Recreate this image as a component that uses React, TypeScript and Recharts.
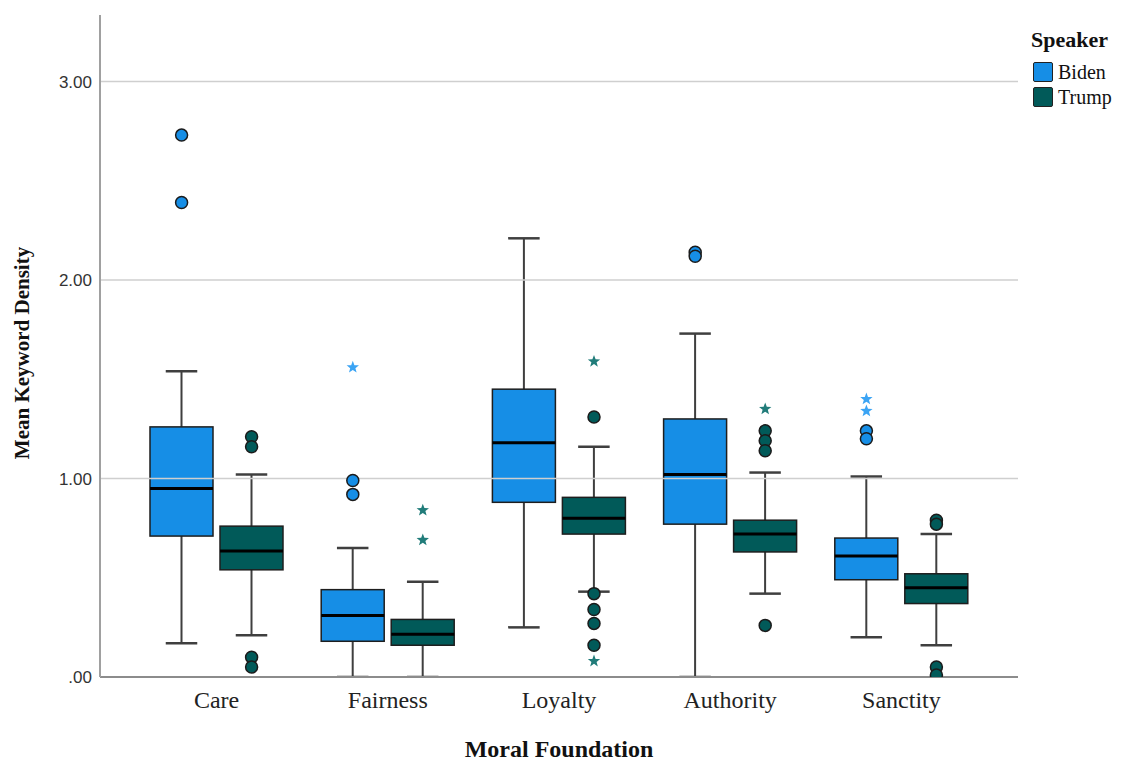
import { ComposedChart, Bar, Scatter, XAxis, YAxis, ReferenceLine } from "recharts";

const categories = ["Care", "Fairness", "Loyalty", "Authority", "Sanctity"];

// [lower whisker, Q1, median, Q3, upper whisker]
const bidenBoxes = [
  [0.17, 0.71, 0.95, 1.26, 1.54],
  [0.0, 0.18, 0.31, 0.44, 0.65],
  [0.25, 0.88, 1.18, 1.45, 2.21],
  [0.0, 0.77, 1.02, 1.3, 1.73],
  [0.2, 0.49, 0.61, 0.7, 1.01],
];
const trumpBoxes = [
  [0.21, 0.54, 0.635, 0.76, 1.02],
  [0.0, 0.16, 0.215, 0.29, 0.48],
  [0.43, 0.72, 0.8, 0.905, 1.16],
  [0.42, 0.63, 0.72, 0.79, 1.03],
  [0.16, 0.37, 0.45, 0.52, 0.72],
];

// outliers as [category index, value]
const bidenCircles = [
  [0, 2.73], [0, 2.39], [1, 0.99], [1, 0.92], [3, 2.14], [3, 2.12], [4, 1.24], [4, 1.2],
];
const bidenStars = [[1, 1.56], [4, 1.4], [4, 1.34]];
const trumpCircles = [
  [0, 1.21], [0, 1.16], [0, 0.1], [0, 0.05],
  [2, 1.31], [2, 0.42], [2, 0.34], [2, 0.27], [2, 0.16],
  [3, 1.24], [3, 1.19], [3, 1.14], [3, 0.26],
  [4, 0.79], [4, 0.77], [4, 0.05], [4, 0.01],
];
const trumpStars = [[1, 0.84], [1, 0.69], [2, 1.59], [2, 0.08], [3, 1.35]];

const yTicks = [0, 1, 2, 3];
const gridValues = [1, 2, 3];

const BIDEN = "#168ee6";
const TRUMP = "#015a59";
const BIDEN_STAR = "#3ba4f4";
const TRUMP_STAR = "#217c7a";
const BAR_SIZE = 63;
const BAR_GAP = 7;
const SHIFT = (BAR_SIZE + BAR_GAP) / 2;

const rows = categories.map((cat, i) => ({
  cat,
  biden: bidenBoxes[i],
  trump: trumpBoxes[i],
  bidenRange: [bidenBoxes[i][0], bidenBoxes[i][4]],
  trumpRange: [trumpBoxes[i][0], trumpBoxes[i][4]],
}));

const toPoints = (list: number[][], speaker: string, kind: string) =>
  list.map(([i, value]) => ({ cat: categories[i], idx: i, value, speaker, kind }));

const outliers = [
  ...toPoints(bidenCircles, "biden", "circle"),
  ...toPoints(bidenStars, "biden", "star"),
  ...toPoints(trumpCircles, "trump", "circle"),
  ...toPoints(trumpStars, "trump", "star"),
].sort((a, b) => a.idx - b.idx);

function makeBox(key: "biden" | "trump", fill: string) {
  return (props: any) => {
    const { x, y, width, height, payload } = props;
    const [lo, q1, med, q3, hi] = payload[key];
    const top = Math.min(y, y + height);
    const h = Math.abs(height);
    const py = (v: number) => top + (h * (hi - v)) / (hi - lo);
    const cx = x + width / 2;
    const cap = width / 4;
    return (
      <g>
        <line x1={cx} x2={cx} y1={py(hi)} y2={py(lo)} stroke="#3f3f3f" strokeWidth={2} />
        <line x1={cx - cap} x2={cx + cap} y1={py(hi)} y2={py(hi)} stroke="#3f3f3f" strokeWidth={2.5} />
        <line x1={cx - cap} x2={cx + cap} y1={py(lo)} y2={py(lo)} stroke="#3f3f3f" strokeWidth={2.5} />
        <rect x={x} y={py(q3)} width={width} height={py(q1) - py(q3)} fill={fill} stroke="#1e1e1e" strokeWidth={1.5} />
        <line x1={x} x2={x + width} y1={py(med)} y2={py(med)} stroke="#000" strokeWidth={3} />
      </g>
    );
  };
}

function starPath(cx: number, cy: number, r: number) {
  const pts: string[] = [];
  for (let k = 0; k < 10; k++) {
    const rad = k % 2 === 0 ? r : r * 0.42;
    const a = -Math.PI / 2 + (k * Math.PI) / 5;
    pts.push(`${cx + rad * Math.cos(a)},${cy + rad * Math.sin(a)}`);
  }
  return `M${pts.join("L")}Z`;
}

const OutlierShape = (props: any) => {
  const { cx, cy, payload } = props;
  const isBiden = payload.speaker === "biden";
  const x = cx + (isBiden ? -SHIFT : SHIFT);
  if (payload.kind === "star") {
    return <path d={starPath(x, cy, 6.5)} fill={isBiden ? BIDEN_STAR : TRUMP_STAR} />;
  }
  return <circle cx={x} cy={cy} r={6} fill={isBiden ? BIDEN : TRUMP} stroke="#1b1b1b" strokeWidth={1.5} />;
};

const serif = "'Liberation Serif', 'Times New Roman', serif";

export default function App() {
  return (
    <div style={{ position: "absolute", left: 0, top: 0, width: 1125, height: 760, background: "#fff" }}>
      <ComposedChart
        width={1125}
        height={760}
        data={rows}
        margin={{ top: 15, right: 107, bottom: 53, left: 0 }}
        barSize={BAR_SIZE}
        barGap={BAR_GAP}
      >
        {gridValues.map((v) => (
          <ReferenceLine key={v} y={v} stroke="#cfcfcf" strokeWidth={1.5} />
        ))}
        <XAxis
          dataKey="cat"
          type="category"
          allowDuplicatedCategory={false}
          height={30}
          padding={{ left: 31, right: 31 }}
          axisLine={{ stroke: "#8c8c8c", strokeWidth: 2 }}
          tickLine={false}
          tickSize={0}
          tickMargin={14}
          tick={{ fill: "#222", fontSize: 24, fontFamily: serif }}
        />
        <YAxis
          type="number"
          width={100}
          domain={[0, 3.335]}
          ticks={yTicks}
          allowDataOverflow
          axisLine={{ stroke: "#a0a0a0", strokeWidth: 2 }}
          tickLine={false}
          tickSize={0}
          tickMargin={8}
          tickFormatter={(v: number) => (v === 0 ? ".00" : v.toFixed(2))}
          tick={{ fill: "#333", fontSize: 17, fontFamily: "'Liberation Sans', Arial, sans-serif" }}
        />
        <Bar dataKey="bidenRange" shape={makeBox("biden", BIDEN)} isAnimationActive={false} />
        <Bar dataKey="trumpRange" shape={makeBox("trump", TRUMP)} isAnimationActive={false} />
        <Scatter data={outliers} dataKey="value" shape={OutlierShape} isAnimationActive={false} />
      </ComposedChart>

      <div
        style={{
          position: "absolute",
          left: 22,
          top: 353,
          transform: "translate(-50%, -50%) rotate(-90deg)",
          whiteSpace: "nowrap",
          fontFamily: serif,
          fontWeight: "bold",
          fontSize: 21,
          color: "#111",
        }}
      >
        Mean Keyword Density
      </div>
      <div
        style={{
          position: "absolute",
          left: 559,
          top: 749,
          transform: "translate(-50%, -50%)",
          whiteSpace: "nowrap",
          fontFamily: serif,
          fontWeight: "bold",
          fontSize: 24,
          color: "#111",
        }}
      >
        Moral Foundation
      </div>

      <div style={{ position: "absolute", left: 1031, top: 26, fontFamily: serif, color: "#111" }}>
        <div style={{ fontWeight: "bold", fontSize: 22, lineHeight: "28px", marginBottom: 6 }}>Speaker</div>
        {[
          { name: "Biden", color: BIDEN },
          { name: "Trump", color: TRUMP },
        ].map((s) => (
          <div key={s.name} style={{ display: "flex", alignItems: "center", height: 24, marginBottom: 1 }}>
            <span
              style={{
                display: "inline-block",
                width: 18,
                height: 18,
                background: s.color,
                border: "1.5px solid #222",
                borderRadius: 2,
                marginLeft: 2,
                marginRight: 5,
              }}
            />
            <span style={{ fontSize: 20 }}>{s.name}</span>
          </div>
        ))}
      </div>
    </div>
  );
}
